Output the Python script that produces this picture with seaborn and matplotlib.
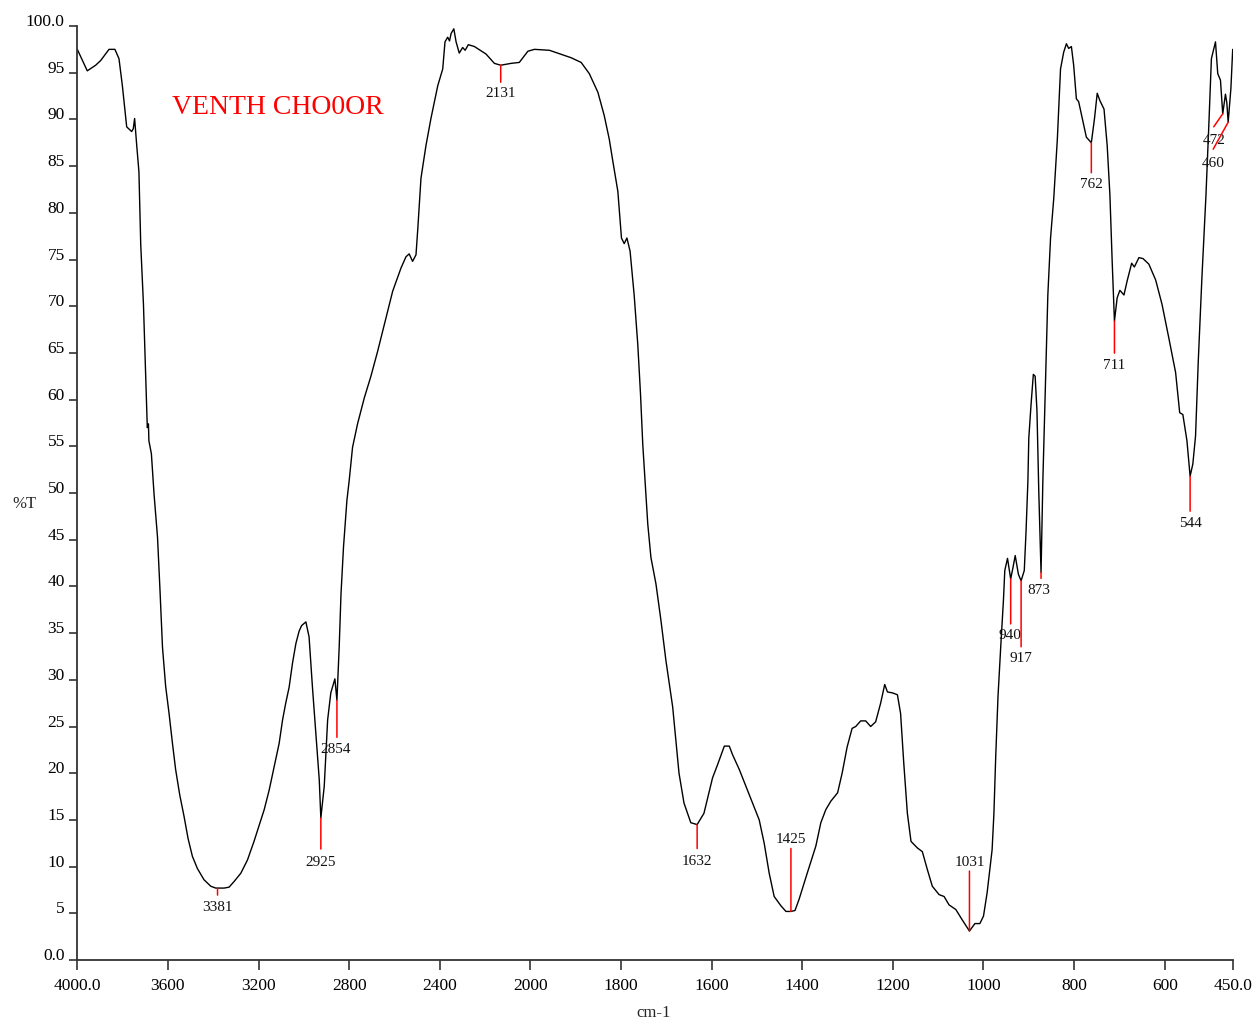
import numpy as np
import pandas as pd
import matplotlib
matplotlib.use("Agg")
import matplotlib.pyplot as plt
import seaborn as sns

# FTIR spectrum: wavenumber (cm-1) and transmittance (%T)
wavenumber = [
    4000, 3956, 3919, 3897, 3860, 3834, 3816, 3801, 3782, 3760, 3753, 3747, 3738, 3728,
    3720, 3708, 3698, 3691, 3686, 3684, 3673, 3661, 3646, 3635, 3624, 3610, 3595, 3580,
    3566, 3548, 3529, 3511, 3492, 3470, 3441, 3411, 3389, 3381, 3352, 3330, 3308, 3278,
    3249, 3220, 3175, 3153, 3131, 3109, 3094, 3080, 3065, 3050, 3035, 3021, 3010, 2991,
    2977, 2962, 2947, 2932, 2925, 2910, 2895, 2881, 2863, 2854, 2844, 2836, 2825, 2810,
    2800, 2785, 2763, 2733, 2704, 2674, 2645, 2608, 2571, 2549, 2535, 2520, 2505, 2497,
    2483, 2461, 2439, 2409, 2387, 2377, 2365, 2357, 2350, 2338, 2328, 2314, 2299, 2288,
    2274, 2247, 2196, 2159, 2131, 2085, 2049, 2011, 1991, 1958, 1940, 1910, 1888, 1870,
    1851, 1837, 1826, 1818, 1807, 1799, 1793, 1787, 1780, 1771, 1763, 1757, 1752, 1747,
    1741, 1734, 1723, 1712, 1701, 1686, 1679, 1672, 1661, 1646, 1632, 1617, 1598, 1587,
    1572, 1561, 1554, 1539, 1521, 1495, 1484, 1473, 1462, 1447, 1436, 1425, 1416, 1407,
    1389, 1370, 1359, 1348, 1337, 1322, 1312, 1301, 1290, 1282, 1271, 1260, 1249, 1238,
    1227, 1218, 1212, 1201, 1190, 1183, 1176, 1168, 1160, 1146, 1135, 1124, 1113, 1098,
    1087, 1076, 1061, 1047, 1031, 1019, 1008, 1000, 992, 981, 977, 973, 968, 962,
    956, 953, 947, 940, 935, 930, 923, 917, 910, 906, 902, 900, 895, 890,
    886, 882, 878, 873, 869, 863, 858, 852, 845, 837, 830, 823, 817, 812,
    806, 801, 795, 790, 782, 773, 762, 755, 749, 743, 734, 727, 721, 716,
    711, 705, 699, 690, 683, 673, 667, 657, 648, 635, 620, 606, 591, 576,
    567, 560, 551, 544, 538, 532, 526, 518, 509, 503, 497, 492, 488, 483,
    477, 472, 466, 463, 460, 454, 450,
]
transmittance = [
    97.5, 95.2, 95.8, 96.3, 97.5, 97.5, 96.5, 93.6, 89.2, 88.7, 89.0, 90.1, 87.3, 84.4,
    76.6, 70.2, 62.3, 57.0, 57.4, 55.6, 54.2, 49.8, 45.3, 39.6, 33.5, 29.3, 26.4, 23.2,
    20.4, 17.7, 15.4, 13.0, 11.1, 9.8, 8.6, 7.9, 7.7, 7.7, 7.7, 7.8, 8.4, 9.3,
    10.7, 12.7, 16.1, 18.2, 20.7, 23.2, 25.7, 27.5, 29.2, 31.8, 33.9, 35.2, 35.8, 36.2,
    34.6, 29.2, 24.3, 19.3, 15.2, 18.6, 25.7, 28.6, 30.1, 27.8, 33.5, 39.2, 44.2, 49.2,
    51.3, 54.9, 57.4, 60.2, 62.5, 65.2, 68.0, 71.6, 74.1, 75.3, 75.6, 74.8, 75.5, 78.3,
    83.7, 87.2, 90.1, 93.6, 95.4, 98.3, 98.8, 98.4, 99.2, 99.7, 98.3, 97.1, 97.7, 97.4,
    98.0, 97.8, 97.0, 96.0, 95.8, 96.0, 96.1, 97.3, 97.5, 97.4, 97.1, 96.6, 96.1, 94.9,
    92.9, 90.4, 87.9, 85.5, 82.3, 77.3, 76.7, 77.3, 75.9, 71.2, 65.9, 60.6, 55.2, 51.3,
    46.7, 43.1, 40.3, 36.4, 32.1, 27.1, 23.6, 20.0, 16.8, 14.7, 14.5, 15.7, 19.5, 20.9,
    22.9, 22.9, 22.0, 20.4, 18.2, 15.0, 12.5, 9.3, 6.8, 5.8, 5.2, 5.2, 5.3, 6.5,
    9.3, 12.2, 14.7, 16.1, 17.0, 17.9, 20.0, 22.8, 24.8, 25.0, 25.6, 25.6, 25.0, 25.5,
    27.5, 29.5, 28.7, 28.6, 28.4, 26.4, 21.1, 15.7, 12.7, 12.0, 11.6, 9.7, 7.9, 7.0,
    6.8, 5.9, 5.4, 4.3, 3.1, 3.9, 3.9, 4.7, 7.2, 11.8, 15.7, 21.8, 28.2, 33.5,
    38.5, 41.7, 43.0, 40.8, 42.0, 43.3, 41.3, 40.6, 41.7, 46.0, 51.3, 55.9, 59.5, 62.7,
    62.5, 58.8, 50.2, 41.5, 51.3, 62.3, 71.2, 77.3, 81.5, 87.9, 95.4, 97.2, 98.1, 97.6,
    97.8, 95.8, 92.2, 91.9, 90.1, 88.1, 87.5, 90.1, 92.8, 92.0, 91.1, 87.2, 81.9, 74.8,
    68.4, 70.9, 71.7, 71.2, 72.7, 74.6, 74.2, 75.2, 75.1, 74.5, 72.8, 70.2, 66.6, 62.9,
    58.6, 58.4, 55.6, 51.8, 53.1, 56.1, 64.1, 73.0, 81.9, 89.0, 96.5, 97.5, 98.3, 94.9,
    94.2, 90.6, 92.7, 91.8, 89.7, 93.3, 97.5,
]

# Picked peaks (cm-1)
peak_positions = [3381, 2925, 2854, 2131, 1632, 1425, 1031, 940, 917, 873, 762, 711, 544, 472, 460]

x_ticks = [4000, 3600, 3200, 2800, 2400, 2000, 1800, 1600, 1400, 1200, 1000, 800, 600, 450]
x_tick_labels = ["4000.0", "3600", "3200", "2800", "2400", "2000", "1800", "1600",
                 "1400", "1200", "1000", "800", "600", "450.0"]
y_ticks = [0, 5, 10, 15, 20, 25, 30, 35, 40, 45, 50, 55, 60, 65, 70, 75, 80, 85, 90, 95, 100]
y_tick_labels = ["0.0"] + [str(v) for v in y_ticks[1:-1]] + ["100.0"]

sample_name = "VENTH CHO0OR"
x_title = "cm-1"
y_title = "%T"

# Leader line / label offsets in pixels: (line dx, line dy, text dx, text dy)
leader_layout = {
    3381: (0, -7, 0, -19),
    2925: (0, -31, 0, -44),
    2854: (0, -37, -1, -49),
    2131: (0, -17, 0, -28),
    1632: (0, -24, 0, -37),
    1425: (0, 63, 0, 72),
    1031: (0, 60, 0, 69),
    940: (0, -45, -1, -57),
    917: (0, -66, 0, -78),
    873: (0, -6, -2, -18),
    762: (0, -30, 0, -42),
    711: (0, -32, 0, -44),
    544: (0, -35, 0, -47),
    472: (-9, -13, -9, -27),
    460: (-15, -27, -15, -41),
}

spectrum = pd.DataFrame({"wavenumber": wavenumber, "T": transmittance})

sns.set_style("ticks")
plt.rcParams["font.family"] = ["Liberation Serif", "DejaVu Serif"]

W, H = 1255, 1021
fig = plt.figure(figsize=(W / 100, H / 100), dpi=100)
ax = fig.add_axes([77.3 / W, 1 - 960 / H, (1232.7 - 77.3) / W, (960 - 26) / H])


# Wavenumber axis is compressed by a factor of two above 2000 cm-1
def fwd(w):
    w = np.asarray(w, dtype=float)
    return np.where(w > 2000, 2000 + (w - 2000) / 2.0, w)


def inv(u):
    u = np.asarray(u, dtype=float)
    return np.where(u > 2000, 2000 + (u - 2000) * 2.0, u)


ax.set_xscale("function", functions=(fwd, inv))

sns.lineplot(data=spectrum, x="wavenumber", y="T", sort=False, estimator=None,
             color="black", lw=1.0, ax=ax)

ax.set_xlim(4000, 450)
ax.set_ylim(0, 100)
ax.set_xticks(x_ticks)
ax.set_xticklabels(x_tick_labels)
ax.set_yticks(y_ticks)
ax.set_yticklabels(y_tick_labels)
ax.minorticks_off()
ax.set_xlabel("")
ax.set_ylabel("")

for side in ["top", "right"]:
    ax.spines[side].set_visible(False)
for side in ["left", "bottom"]:
    ax.spines[side].set_color("#333333")
    ax.spines[side].set_linewidth(1.3)

ax.tick_params(axis="x", direction="out", length=7, width=1.2, color="#333333",
               pad=6, labelsize=12.5, labelcolor="black")
ax.tick_params(axis="y", direction="out", length=6, width=1.2, color="#333333",
               pad=3, labelsize=12.5, labelcolor="black")
for lab in ax.get_yticklabels():
    lab.set_verticalalignment("baseline")

# Peak annotations
wn_arr = np.array(wavenumber, dtype=float)
t_arr = np.array(transmittance, dtype=float)
order = np.argsort(wn_arr)
for pk in peak_positions:
    t_val = float(np.interp(pk, wn_arr[order], t_arr[order]))
    ldx, ldy, tdx, tdy = leader_layout[pk]
    ax.annotate("", xy=(pk, t_val), xytext=(ldx, ldy), textcoords="offset pixels",
                arrowprops=dict(arrowstyle="-", color="#ff0000", lw=1.1,
                                shrinkA=0, shrinkB=0))
    ax.annotate(str(pk), xy=(pk, t_val), xytext=(tdx, tdy), textcoords="offset pixels",
                ha="center", va="center", fontsize=11, color="#111111")

fig.text(171.7 / W, 1 - 114 / H, sample_name, color="#ff0000", fontsize=20,
         ha="left", va="baseline")
fig.text(12.7 / W, 1 - 508.3 / H, y_title, fontsize=12, ha="left", va="baseline")
fig.text(653.7 / W, 1 - 1016.5 / H, x_title, fontsize=12, ha="center", va="baseline")

fig.savefig("out.png", dpi=100, facecolor="white")
